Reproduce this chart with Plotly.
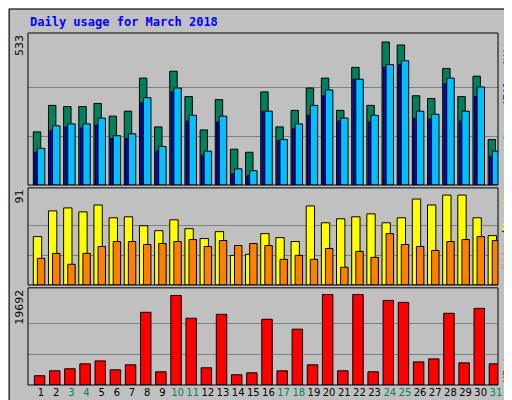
import plotly.graph_objects as go

days = list(range(1, 32))
weekend = [3, 4, 10, 11, 17, 18, 24, 25, 31]
hits = [193,289,285,285,296,250,268,388,211,413,321,200,310,130,119,338,211,271,352,388,271,427,289,519,508,324,314,423,321,395,165]
files = [133,215,222,222,243,179,186,317,140,352,253,123,250,59,52,268,165,222,289,345,243,384,253,437,451,268,257,388,268,356,123]
pages = [119,197,211,207,218,169,169,299,123,338,232,108,229,41,34,268,161,204,253,324,232,384,229,427,437,243,239,367,232,321,105]
visits = [49,75,78,74,81,68,69,60,55,66,57,47,54,30,31,52,48,44,80,63,67,69,72,63,68,87,81,91,91,68,50]
sites = [27,32,21,32,39,44,44,41,42,44,46,39,45,40,42,40,26,30,26,37,18,34,28,52,41,39,35,44,46,49,45]
kbytes = [1970,3020,3450,4500,5130,3230,4290,15470,2810,19050,14200,3660,15040,2180,2600,13990,3020,11880,4290,19260,3020,19260,2810,18000,17580,4920,5550,15260,4710,16310,4500]
max_hits, max_visits, max_kb = 533, 91, 19692

fig = go.Figure()
line = dict(color="black", width=1)
def bar(y, color, off, w, xa, ya):
    fig.add_trace(go.Bar(x=days, y=y, marker=dict(color=color, line=line), offset=off, width=w,
                         xaxis=xa, yaxis=ya, showlegend=False))
bar(hits, "#00805c", -0.51, 0.49, "x3", "y")
bar(pages, "#0000ff", -0.42, 0.17, "x3", "y")
bar(files, "#00c0ff", -0.24, 0.49, "x3", "y")
bar(visits, "#ffff00", -0.51, 0.55, "x2", "y2")
bar(sites, "#ff8000", -0.24, 0.49, "x2", "y2")
bar(kbytes, "#ff0000", -0.44, 0.69, "x", "y3")

ticktext = [f"<span style='color:{'#00805c' if d in weekend else 'black'}'>{d}</span>" for d in days]
xcommon = dict(range=[0.14, 31.14], showgrid=False, zeroline=False, showline=False, automargin=False)
mono = "DejaVu Sans Mono"
ycommon = dict(showticklabels=False, gridcolor="#808080", zeroline=False, automargin=False)
fig.update_layout(
    width=512, height=400, margin=dict(l=20, r=22, t=25, b=23, autoexpand=False),
    paper_bgcolor="#c0c0c0", plot_bgcolor="#c0c0c0", barmode="overlay",
    font=dict(family=mono, size=11, color="black"),
    xaxis=dict(**xcommon, anchor="y3", tickvals=days, ticktext=ticktext, ticks="", tickangle=0,
               tickfont=dict(size=10, family="DejaVu Sans")),
    xaxis2=dict(**xcommon, anchor="y2", showticklabels=False),
    xaxis3=dict(**xcommon, anchor="y", showticklabels=False),
    yaxis=dict(**ycommon, domain=[0.568, 1], range=[0, max_hits * 1.035], tickvals=[max_hits/3, 2*max_hits/3]),
    yaxis2=dict(**ycommon, domain=[0.284, 0.56], range=[0, max_visits * 1.08], tickvals=[max_visits/3, 2*max_visits/3]),
    yaxis3=dict(**ycommon, domain=[0, 0.276], range=[0, max_kb * 1.05], tickvals=[max_kb/3, 2*max_kb/3]),
)

shapes = [dict(type="rect", xref="paper", yref="paper", x0=0, x1=1, y0=y0, y1=y1,
               line=dict(color="black", width=1)) for y0, y1 in [(0.568, 1), (0.284, 0.56), (0, 0.276)]]
shapes.append(dict(type="rect", xref="paper", yref="paper", x0=-0.04, x1=1.043, y0=-0.062, y1=1.068,
                   line=dict(color="black", width=1)))
fig.update_layout(shapes=shapes)

ann = [
    dict(text="<b>Daily usage for March 2018</b>", x=0, y=1.0, xref="paper", yref="paper", xanchor="left",
         yanchor="bottom", yshift=2, showarrow=False, font=dict(color="#0000ff", size=12, family=mono)),
    dict(text=str(max_hits), x=0, y=1, xref="paper", yref="paper", textangle=-90, xanchor="right", yanchor="top",
         showarrow=False, font=dict(size=11, family="DejaVu Sans")),
    dict(text=str(max_visits), x=0, y=0.56, xref="paper", yref="paper", textangle=-90, xanchor="right", yanchor="top",
         showarrow=False, font=dict(size=11, family="DejaVu Sans")),
    dict(text=str(max_kb), x=0, y=0.276, xref="paper", yref="paper", textangle=-90, xanchor="right", yanchor="top",
         showarrow=False, font=dict(size=11, family="DejaVu Sans")),
    dict(text="<span style='color:#00c0ff'>Pages</span>/<span style='color:#0000ff'>Files</span>/<span style='color:#00805c'>Hits</span>",
         x=1, y=1, xref="paper", yref="paper", textangle=-90, xanchor="left", yanchor="top", showarrow=False,
         font=dict(size=11, family=mono, color="black")),
    dict(text="<span style='color:#ff8000'>Sites</span>/<span style='color:#ffff00'>Visits</span>",
         x=1, y=0.56, xref="paper", yref="paper", textangle=-90, xanchor="left", yanchor="top", showarrow=False,
         font=dict(size=11, family=mono, color="black")),
    dict(text="KBytes", x=1, y=0, xref="paper", yref="paper", textangle=-90, xanchor="left", yanchor="bottom",
         showarrow=False, font=dict(size=11, family=mono, color="#ff0000")),
]
fig.update_layout(annotations=ann)
fig.write_html("out.html")
